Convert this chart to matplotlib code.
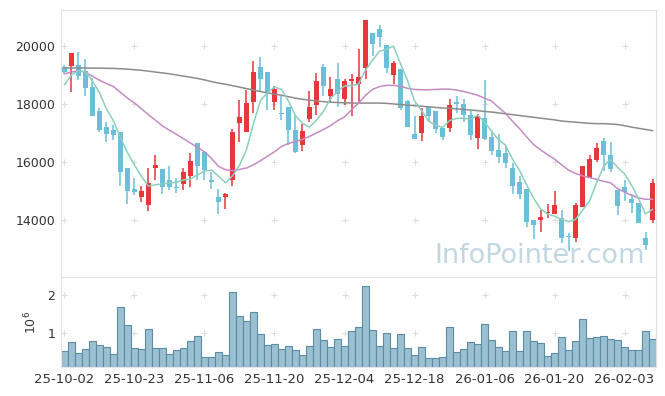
import matplotlib.pyplot as plt
import numpy as np
import pandas as pd

# daily OHLC
opens = [19290, 19324, 19347, 19141, 18590, 17765, 17215, 17112, 17032, 15806,
         15049, 14786, 14511, 15783, 15771, 15359, 15141, 15233, 15508, 16665,
         16356, 15359, 14798, 14786, 15370, 17330, 17020, 18052, 19278, 19106,
         18063, 17662, 17891, 17112, 16574, 17479, 17949, 19267, 18258, 18854,
         18166, 18808, 18693, 19255, 20435, 20584, 20034, 19003, 19198, 18109,
         16963, 16998, 17891, 17765, 17170, 17170, 18063, 17995, 17628, 16826,
         17513, 16860, 16425, 16310, 15794, 15313, 15072, 13984, 13995, 14247,
         14213, 14075, 13433, 13388, 14442, 15428, 16081, 16711, 16230, 15026,
         15141, 14706, 14568, 13365, 13995]
highs = [19330, 19771, 19805, 19542, 18888, 17857, 17376, 17261, 17032, 15806,
         15450, 15164, 15794, 16253, 15771, 15874, 15450, 15806, 16310, 16665,
         16356, 15645, 15072, 14935, 17135, 18144, 18464, 19484, 19610, 19106,
         18625, 18258, 17891, 17605, 17307, 18453, 19060, 19381, 18923, 19404,
         18854, 19037, 19885, 20894, 20435, 20722, 20034, 19484, 19198, 18144,
         17570, 17857, 17891, 17765, 17170, 18166, 18258, 18166, 17765, 17651,
         18831, 17055, 16963, 16539, 15966, 15508, 15072, 13984, 14327, 14545,
         14992, 14327, 13560, 14591, 15852, 16253, 16654, 16826, 16688, 15026,
         15393, 14877, 14568, 13594, 15416]
lows = [19050, 18407, 18831, 18258, 17570, 17020, 16677, 16745, 15164, 14556,
        14843, 14614, 14304, 15393, 14900, 15015, 14935, 15026, 15141, 15370,
        15393, 15049, 14190, 14385, 15164, 16677, 17020, 17685, 18396, 17800,
        17800, 17456, 16585, 16310, 16367, 17364, 17616, 18258, 18063, 17891,
        17960, 17593, 18029, 18865, 19656, 19977, 19060, 18682, 17800, 17192,
        16803, 16711, 17364, 16998, 16745, 17032, 17685, 17376, 16745, 16459,
        16745, 16253, 15966, 15794, 14877, 14706, 13755, 13330, 13594, 14052,
        14213, 13216, 12930, 13250, 14442, 15428, 15999, 15680, 15657, 14167,
        14648, 14224, 13880, 12952, 13880]
closes = [19095, 19771, 18969, 18533, 17570, 17089, 16952, 16940, 15645, 14981,
          14958, 14981, 15256, 15886, 15130, 15130, 15084, 15668, 16046, 15851,
          15737, 15302, 14614, 14900, 17032, 17559, 18029, 19106, 18854, 18396,
          18522, 17639, 17089, 16333, 17078, 17891, 18797, 18636, 18510, 18350,
          18797, 18865, 18923, 20894, 20080, 20321, 19232, 19427, 17857, 17215,
          16803, 17593, 17570, 17135, 16849, 17972, 17983, 17605, 16918, 17593,
          16803, 16367, 16161, 15966, 15164, 14877, 13938, 13823, 14110, 14281,
          14499, 13388, 13410, 14499, 15852, 16115, 16482, 16230, 15771, 14476,
          14969, 14568, 13880, 13135, 15256]
volumes = [0.54, 0.77, 0.49, 0.59, 0.80, 0.70, 0.64, 0.46, 1.68, 1.22,
           0.62, 0.59, 1.11, 0.62, 0.62, 0.46, 0.57, 0.62, 0.80, 0.93,
           0.38, 0.38, 0.51, 0.43, 2.08, 1.45, 1.32, 1.56, 0.98, 0.70,
           0.72, 0.59, 0.67, 0.57, 0.43, 0.67, 1.11, 0.83, 0.64, 0.85,
           0.67, 1.06, 1.17, 2.23, 1.09, 0.67, 1.01, 0.62, 0.98, 0.62,
           0.43, 0.64, 0.36, 0.36, 0.38, 1.17, 0.51, 0.59, 0.77, 0.72,
           1.24, 0.83, 0.64, 0.54, 1.06, 0.54, 1.06, 0.80, 0.75, 0.41,
           0.49, 0.90, 0.57, 0.80, 1.37, 0.88, 0.90, 0.93, 0.85, 0.83,
           0.64, 0.57, 0.57, 1.06, 0.85]

# moving averages that need history before the first candle
ma5_head = [18660, 19000, 19140, 19115]
ma20 = [19040, 19100, 19140, 19100, 18950, 18820, 18700, 18600, 18400, 18200,
        18030, 17830, 17630, 17440, 17240, 17090, 16950, 16800, 16650, 16500,
        16350, 16120, 15850, 15730, 15700, 15740, 15790, 15900, 16040, 16200,
        16350, 16530, 16640, 16700, 16780, 16880, 17000, 17120, 17250, 17420,
        17550, 17800, 18020, 18300, 18500, 18600, 18640, 18640, 18610, 18540,
        18500, 18490, 18490, 18500, 18510, 18510, 18480, 18430, 18370, 18300,
        18200, 18100, 17880, 17680, 17400, 17150, 16870, 16600, 16420, 16250,
        16100, 15900, 15720, 15600, 15520, 15460, 15400, 15330, 15280, 15080,
        14960, 14850, 14760, 14710, 14710]
ma120 = [19240, 19240, 19240, 19240, 19235, 19235, 19230, 19225, 19215, 19200,
         19180, 19160, 19130, 19100, 19070, 19040, 19000, 18960, 18920, 18880,
         18830, 18770, 18720, 18680, 18630, 18580, 18530, 18480, 18430, 18380,
         18340, 18300, 18250, 18200, 18160, 18130, 18100, 18080, 18060, 18050,
         18040, 18030, 18030, 18030, 18030, 18030, 18020, 18000, 17980, 17960,
         17940, 17920, 17900, 17880, 17860, 17850, 17830, 17810, 17790, 17770,
         17740, 17720, 17690, 17660, 17630, 17600, 17570, 17540, 17510, 17480,
         17450, 17410, 17390, 17370, 17350, 17330, 17320, 17320, 17310, 17290,
         17250, 17200, 17160, 17120, 17080]

tick_labels = ['25-10-02', '25-10-23', '25-11-06', '25-11-20', '25-12-04',
               '25-12-18', '26-01-06', '26-01-20', '26-02-03']

df = pd.DataFrame({'o': opens, 'h': highs, 'l': lows, 'c': closes, 'v': volumes})
ma5 = df['c'].rolling(5).mean().to_numpy()
ma5[:4] = ma5_head

up_col = '#e8363a'
down_col = '#6bbfd9'
x = np.arange(len(df))
up = df['c'] >= df['o']
colors = np.where(up, up_col, down_col)

fig = plt.figure(figsize=(6.65, 3.96), dpi=100)
ax = fig.add_axes([0.0917, 0.3005, 0.8948, 0.6742])
axv = fig.add_axes([0.0917, 0.0732, 0.8948, 0.2273], sharex=ax)

# candles
ax.vlines(x, df['l'], df['h'], colors=colors, linewidth=1.1, zorder=2)
body_bottom = np.minimum(df['o'], df['c'])
body_h = np.maximum(np.abs(df['c'] - df['o']), 40)
ax.bar(x, body_h, bottom=body_bottom, width=0.72, color=colors, linewidth=0, zorder=3)

ax.plot(x, ma120, color='#8c8c8c', linewidth=1.1, zorder=4)
ax.plot(x, ma20, color='#c68bc4', linewidth=1.1, zorder=4)
ax.plot(x, ma5, color='#8dcfbf', linewidth=1.1, zorder=4)

ax.set_xlim(-0.5, len(df) - 0.5)
ax.set_ylim(12030, 21240)
ax.set_yticks([14000, 16000, 18000, 20000])

ax.text(0.805, 0.08, 'InfoPointer.com', transform=ax.transAxes, ha='center', va='center',
        fontsize=19.5, color='#c3d7e2', zorder=1)

# volume
axv.bar(x, df['v'], width=1.0, color='#9bc0d1', edgecolor='#5a8ca6', linewidth=0.8)
axv.set_ylim(0.13, 2.46)
axv.set_yticks([1, 2])
axv.set_ylabel('$10^6$', fontsize=9, color='#333333', labelpad=6)

xt = np.arange(0, len(df), 10)
axv.set_xticks(xt)
axv.set_xticklabels(tick_labels)

for a, yt in ((ax, [14000, 16000, 18000, 20000]), (axv, [1, 2])):
    gx, gy = np.meshgrid(xt, yt)
    a.plot(gx.ravel(), gy.ravel(), '+', color='#dddddd', markersize=5, mew=0.8, zorder=0)
    for s in a.spines.values():
        s.set_color('#e3e3e3')
    a.tick_params(length=0, labelsize=9, colors='#333333', pad=4)
axv.tick_params(axis='x', labelsize=9.5)

plt.setp(ax.get_xticklabels(), visible=False)

fig.savefig('out.png', dpi=100)
